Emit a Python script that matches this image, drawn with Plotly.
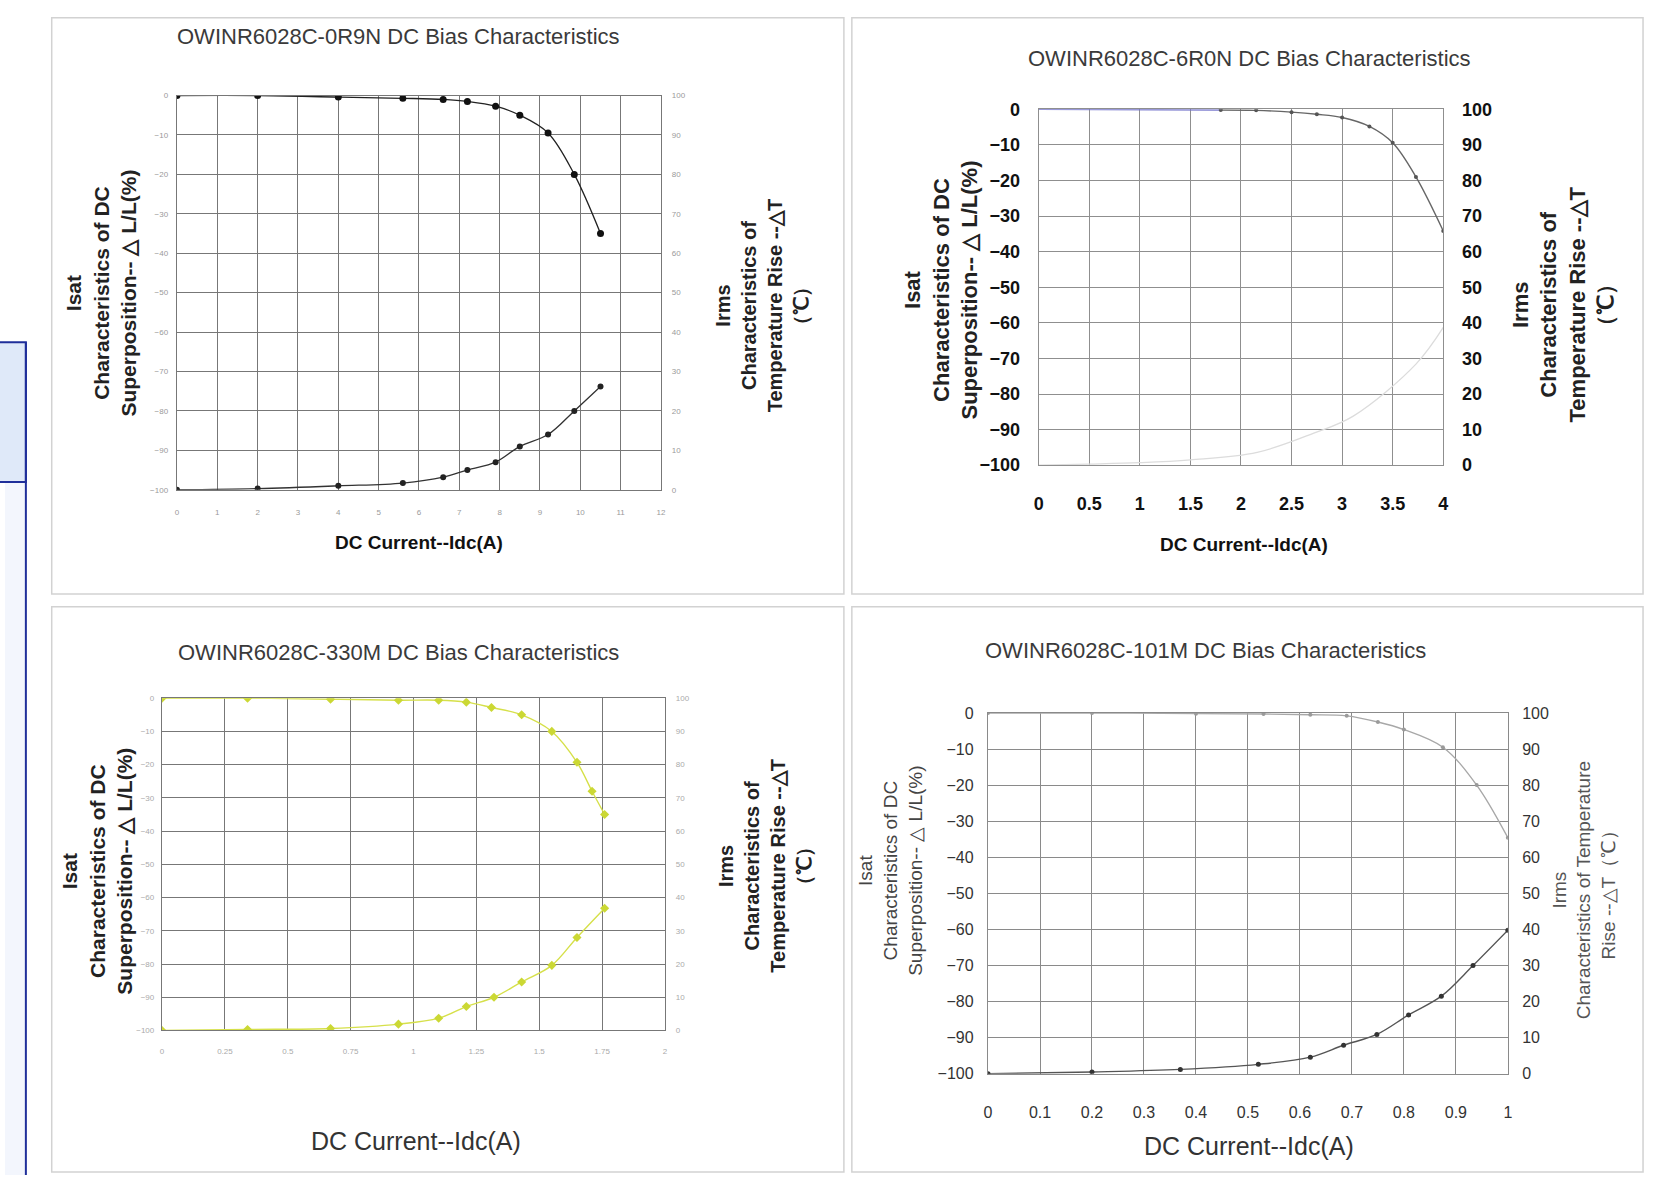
import plotly.graph_objects as go

W, H = 1654, 1185

# ---------------- data ----------------
titles = ["OWINR6028C-0R9N DC Bias Characteristics",
          "OWINR6028C-6R0N DC Bias Characteristics",
          "OWINR6028C-330M DC Bias Characteristics",
          "OWINR6028C-101M DC Bias Characteristics"]

p1_idc = [0, 2, 4, 5.6, 6.6, 7.2, 7.9, 8.5, 9.2, 9.85, 10.5]
p1_dL = [0, 0, -0.4, -0.7, -1.0, -1.5, -2.7, -5.0, -9.5, -20, -35]
p1_dT = [0, 0.3, 1.0, 1.7, 3.2, 5.0, 7.0, 11.0, 14.0, 20.0, 26.2]

p2_idc_L = [0, 0.5, 1.0, 1.5, 1.8, 2.15, 2.5, 2.75, 3.0, 3.27, 3.5, 3.73, 4.0]
p2_dL = [0, -0.1, -0.1, -0.2, -0.2, -0.3, -0.8, -1.4, -2.3, -4.8, -9.4, -19, -34.2]
p2_idc_T = [0, 0.5, 1.0, 1.5, 2.16, 2.72, 3.11, 3.73, 4.0]
p2_dT = [0, 0.3, 0.7, 1.5, 3.6, 9.0, 13.8, 28.4, 38.7]

p3_idc = [0, 0.34, 0.67, 0.94, 1.10, 1.21, 1.31, 1.43, 1.55, 1.65, 1.71, 1.76]
p3_dL = [0, 0, -0.3, -0.6, -0.6, -1.2, -2.8, -5.0, -10, -19.3, -28, -35]
p3_idc_T = [0, 0.34, 0.67, 0.94, 1.10, 1.21, 1.32, 1.43, 1.55, 1.65, 1.76]
p3_dT = [0, 0.3, 0.6, 1.9, 3.7, 7.2, 10.0, 14.6, 19.6, 28, 36.8]

p4_idc_L = [0, 0.2, 0.4, 0.53, 0.62, 0.69, 0.75, 0.8, 0.875, 0.94, 1.0]
p4_dL = [0, 0, -0.2, -0.3, -0.5, -0.8, -2.5, -4.6, -9.5, -20, -34.6]
p4_idc_T = [0, 0.2, 0.37, 0.52, 0.62, 0.684, 0.748, 0.809, 0.872, 0.933, 1.0]
p4_dT = [0, 0.5, 1.2, 2.6, 4.6, 7.9, 10.9, 16.3, 21.5, 30, 39.8]

x_ranges = [(0, 12, 1), (0, 4, 0.5), (0, 2, 0.25), (0, 1, 0.1)]
xtitle = "DC Current--Idc(A)"
ltitle = "Isat<br>Characteristics of DC<br>Superposition-- △ L/L(%)"
rtitle = "Irms<br>Characteristics of<br>Temperature Rise --△T<br>（℃）"
ltitle4 = "Isat<br>Characteristics of DC<br>Superposition-- △ L/L(%)"
rtitle4 = "Irms<br>Characteristics of Temperature<br>Rise --△T（℃）"

FONT = "Liberation Sans, Arial, sans-serif"

# ---------------- layout geometry (pixels) ----------------
plots = [  # x0, x1, ytop, ybottom
    (173, 660, 87, 488),
    (1040, 1447, 101, 463),
    (158, 664, 700, 1038),
    (989, 1512, 715, 1082),
]
boxes = [(47, 844, 8, 594), (852, 1648, 8, 594), (47, 844, 607, 1182), (852, 1648, 607, 1182)]


def px(x):
    return x / W


def py(y):
    return 1 - y / H


fig = go.Figure()

styles = [
    dict(tick_size=8, tick_color="#9a9a9a", tick_weight="normal", grid="#777777", gw=1.4,
         xlen=14, ylen=6, rlen=8),
    dict(tick_size=18, tick_color="#111", tick_weight="bold", grid="#8f8f8f", gw=1.3,
         xlen=22, ylen=14, rlen=14),
    dict(tick_size=8, tick_color="#aaaaaa", tick_weight="normal", grid="#777777", gw=1.4,
         xlen=13, ylen=5, rlen=8),
    dict(tick_size=16, tick_color="#333", tick_weight="normal", grid="#8a8a8a", gw=1.3,
         xlen=24, ylen=10, rlen=10),
]

for i, ((x0, x1, yt, yb), st, (xr0, xr1, xd)) in enumerate(zip(plots, styles, x_ranges)):
    xa = "xaxis" if i == 0 else f"xaxis{i + 1}"
    ya = "yaxis" if i == 0 else f"yaxis{2 * i + 1}"
    yb2 = f"yaxis{2 * i + 2}"
    xref = "x" if i == 0 else f"x{i + 1}"
    yref = "y" if i == 0 else f"y{2 * i + 1}"
    tf = dict(size=st["tick_size"], color=st["tick_color"], family=FONT, weight=st["tick_weight"])
    common = dict(showgrid=True, gridcolor=st["grid"], gridwidth=st["gw"], zeroline=False,
                  showline=True, linecolor=st["grid"], linewidth=st["gw"],
                  ticks="outside", tickcolor="rgba(0,0,0,0)", tickfont=tf)
    fig.update_layout({
        xa: dict(domain=[px(x0), px(x1)], anchor=yref, range=[xr0, xr1], dtick=xd, tick0=0,
                 ticklen=st["xlen"], mirror=True, **common),
        ya: dict(domain=[py(yb), py(yt)], anchor=xref, range=[-100, 0], dtick=10,
                 ticklen=st["ylen"], **common),
        yb2: dict(overlaying=yref, anchor=xref, side="right", range=[0, 100], dtick=10,
                  showgrid=False, zeroline=False, showline=True, linecolor=st["grid"],
                  linewidth=st["gw"], ticks="outside", tickcolor="rgba(0,0,0,0)",
                  ticklen=st["rlen"], tickfont=tf),
    })

# ---------------- traces ----------------
# Panel 1
fig.add_trace(go.Scatter(x=p1_idc, y=p1_dL, xaxis="x", yaxis="y", mode="lines+markers",
                         line=dict(color="#222", width=1.3, shape="spline"),
                         marker=dict(color="#111", size=7), showlegend=False))
fig.add_trace(go.Scatter(x=p1_idc, y=p1_dT, xaxis="x", yaxis="y2", mode="lines+markers",
                         line=dict(color="#333", width=1.3, shape="spline"),
                         marker=dict(color="#222", size=6), showlegend=False))
# Panel 2
fig.add_trace(go.Scatter(x=p2_idc_L[:5], y=p2_dL[:5], xaxis="x2", yaxis="y3", mode="lines",
                         line=dict(color="#7777cc", width=1.5), showlegend=False))
fig.add_trace(go.Scatter(x=p2_idc_L[4:], y=p2_dL[4:], xaxis="x2", yaxis="y3", mode="lines+markers",
                         line=dict(color="#666", width=1.4, shape="spline"),
                         marker=dict(color="#555", size=4), showlegend=False))
fig.add_trace(go.Scatter(x=p2_idc_T, y=p2_dT, xaxis="x2", yaxis="y4", mode="lines",
                         line=dict(color="#dcdcdc", width=1.3, shape="spline"), showlegend=False))
# Panel 3
fig.add_trace(go.Scatter(x=p3_idc, y=p3_dL, xaxis="x3", yaxis="y5", mode="lines+markers",
                         line=dict(color="#d6e04a", width=1.4, shape="spline"),
                         marker=dict(color="#cbd834", size=7, symbol="diamond"), showlegend=False))
fig.add_trace(go.Scatter(x=p3_idc_T, y=p3_dT, xaxis="x3", yaxis="y6", mode="lines+markers",
                         line=dict(color="#d6e04a", width=1.4, shape="spline"),
                         marker=dict(color="#cbd834", size=7, symbol="diamond"), showlegend=False))
# Panel 4
fig.add_trace(go.Scatter(x=p4_idc_L, y=p4_dL, xaxis="x4", yaxis="y7", mode="lines+markers",
                         line=dict(color="#a8a8a8", width=1.4, shape="spline"),
                         marker=dict(color="#9a9a9a", size=4), showlegend=False))
fig.add_trace(go.Scatter(x=p4_idc_T, y=p4_dT, xaxis="x4", yaxis="y8", mode="lines+markers",
                         line=dict(color="#555", width=1.4, shape="spline"),
                         marker=dict(color="#333", size=5), showlegend=False))

# ---------------- shapes ----------------
shapes = []
for (bx0, bx1, by0, by1) in boxes:
    shapes.append(dict(type="rect", xref="paper", yref="paper", x0=px(bx0), x1=px(bx1),
                       y0=py(by1), y1=py(by0), line=dict(color="#d2d2d2", width=1.5),
                       fillcolor="rgba(0,0,0,0)", layer="below"))
# left blue element
shapes.append(dict(type="rect", xref="paper", yref="paper", x0=0, x1=px(21), y0=py(1185), y1=py(480),
                   line=dict(width=0), fillcolor="#f3f6fd", layer="below"))
shapes.append(dict(type="rect", xref="paper", yref="paper", x0=-0.01, x1=px(21), y0=py(480), y1=py(338),
                   line=dict(color="#1f2f9a", width=2), fillcolor="#dfe9f9", layer="below"))
shapes.append(dict(type="line", xref="paper", yref="paper", x0=px(21), x1=px(21), y0=0, y1=py(338),
                   line=dict(color="#1f2f9a", width=2)))
fig.update_layout(shapes=shapes)

# ---------------- annotations ----------------
ann = []


def add(text, x, y, size, color="#333", weight="normal", angle=0):
    ann.append(dict(text=text, x=px(x), y=py(y), xref="paper", yref="paper", showarrow=False,
                    xanchor="center", yanchor="middle", textangle=angle,
                    font=dict(size=size, color=color, family=FONT, weight=weight)))


# titles
add(titles[0], 396, 27, 22, "#3a3a3a")
add(titles[1], 1252, 49, 22, "#3a3a3a")
add(titles[2], 396, 654, 22, "#3a3a3a")
add(titles[3], 1208, 652, 22, "#3a3a3a")
# x-axis titles
add(xtitle, 417, 542, 19, "#111", "bold")
add(xtitle, 1247, 544, 19, "#111", "bold")
add(xtitle, 414, 1150, 25, "#333")
add(xtitle, 1252, 1156, 25, "#333")
# left y titles
add(ltitle, 97, 288, 21, "#222", "bold", -90)
add(ltitle, 942, 285, 22, "#222", "bold", -90)
add(ltitle, 93, 876, 21, "#222", "bold", -90)
add(ltitle4, 891, 876, 19, "#444", "normal", -90)
# right y titles
add(rtitle, 762, 300, 20, "#222", "bold", -90)
add(rtitle, 1568, 300, 22, "#222", "bold", -90)
add(rtitle, 765, 870, 20, "#222", "bold", -90)
add(rtitle4, 1588, 895, 19, "#555", "normal", -90)

fig.update_layout(annotations=ann, width=W, height=H, margin=dict(l=0, r=0, t=0, b=0),
                  paper_bgcolor="white", plot_bgcolor="white", showlegend=False)

fig.write_html("out.html")
